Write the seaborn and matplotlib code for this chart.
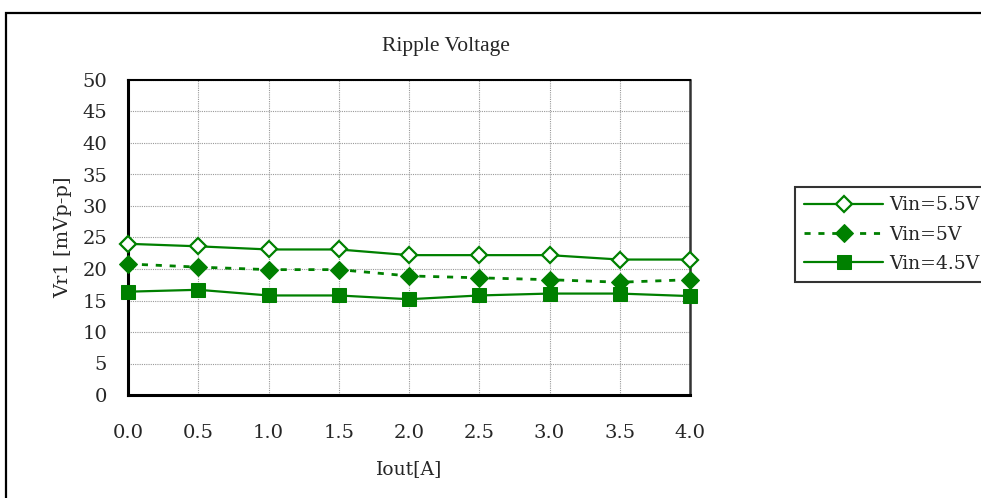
import numpy as np
import pandas as pd
import matplotlib
matplotlib.use("Agg")
import matplotlib.pyplot as plt
import matplotlib.patches as patches
import seaborn as sns

iout = [0.0, 0.5, 1.0, 1.5, 2.0, 2.5, 3.0, 3.5, 4.0]
vin_55 = [24.0, 23.6, 23.1, 23.1, 22.2, 22.2, 22.2, 21.5, 21.5]
vin_50 = [20.8, 20.3, 19.9, 19.9, 18.9, 18.6, 18.3, 17.9, 18.3]
vin_45 = [16.4, 16.7, 15.8, 15.8, 15.2, 15.8, 16.1, 16.1, 15.7]
labels = ["Vin=5.5V", "Vin=5V", "Vin=4.5V"]

sns.set_style("white")
plt.rcParams["font.family"] = ["DejaVu Serif"]

green = "#008000"

fig = plt.figure(figsize=(9.81, 4.98), dpi=100)
ax = fig.add_axes([128/981, 1-395/498, 562/981, 315/498])

sns.lineplot(x=iout, y=vin_55, ax=ax, color=green, lw=1.6, marker="D",
             markersize=8, markerfacecolor="white", markeredgecolor=green,
             markeredgewidth=1.6, label=labels[0], clip_on=False, zorder=5)
sns.lineplot(x=iout, y=vin_50, ax=ax, color=green, lw=2.0, marker="D",
             markersize=9.5, markerfacecolor=green, markeredgecolor=green,
             linestyle=(0, (2.2, 2.8)), label=labels[1], clip_on=False, zorder=5)
sns.lineplot(x=iout, y=vin_45, ax=ax, color=green, lw=1.6, marker="s",
             markersize=9.5, markerfacecolor=green, markeredgecolor=green,
             label=labels[2], clip_on=False, zorder=5)

ax.set_xlim(0, 4)
ax.set_ylim(0, 50)
ax.set_xticks(np.arange(0, 4.01, 0.5))
ax.set_xticklabels([f"{v:.1f}" for v in np.arange(0, 4.01, 0.5)])
ax.set_yticks(np.arange(0, 51, 5))
ax.grid(True, color="#999999", linestyle=(0, (1, 1)), linewidth=0.8)
ax.set_axisbelow(True)

ax.tick_params(axis="y", direction="in", length=6, width=2, pad=15, labelsize=14)
ax.tick_params(axis="x", length=0, pad=21, labelsize=14)

for side in ["left", "bottom"]:
    ax.spines[side].set_color("black")
    ax.spines[side].set_linewidth(2.2)
ax.spines["top"].set_color("black")
ax.spines["top"].set_linewidth(1.5)
ax.spines["right"].set_color("#333333")
ax.spines["right"].set_linewidth(1.8)

ax.set_xlabel("Iout[A]", fontsize=13.5, labelpad=13)
ax.set_ylabel("Vr1 [mVp-p]", fontsize=14, labelpad=7)

fig.text(446/981, 1-46/498, "Ripple Voltage", ha="center", va="center",
         fontsize=15.5, family="Liberation Serif")

leg = ax.legend(loc="upper left", bbox_to_anchor=(795/981, 1-187/498),
                bbox_transform=fig.transFigure, fontsize=13.5, frameon=True,
                fancybox=False, edgecolor="black", handlelength=4.2,
                labelspacing=0.6, borderpad=0.5, handletextpad=0.3,
                borderaxespad=0)
leg.get_frame().set_linewidth(1.5)

border = patches.Rectangle((6/981, -0.1), 1.2, 1.1 - 13/498,
                           transform=fig.transFigure, fill=False,
                           edgecolor="black", linewidth=1.6, clip_on=False)
fig.patches.append(border)

fig.savefig("out.png", dpi=100)
